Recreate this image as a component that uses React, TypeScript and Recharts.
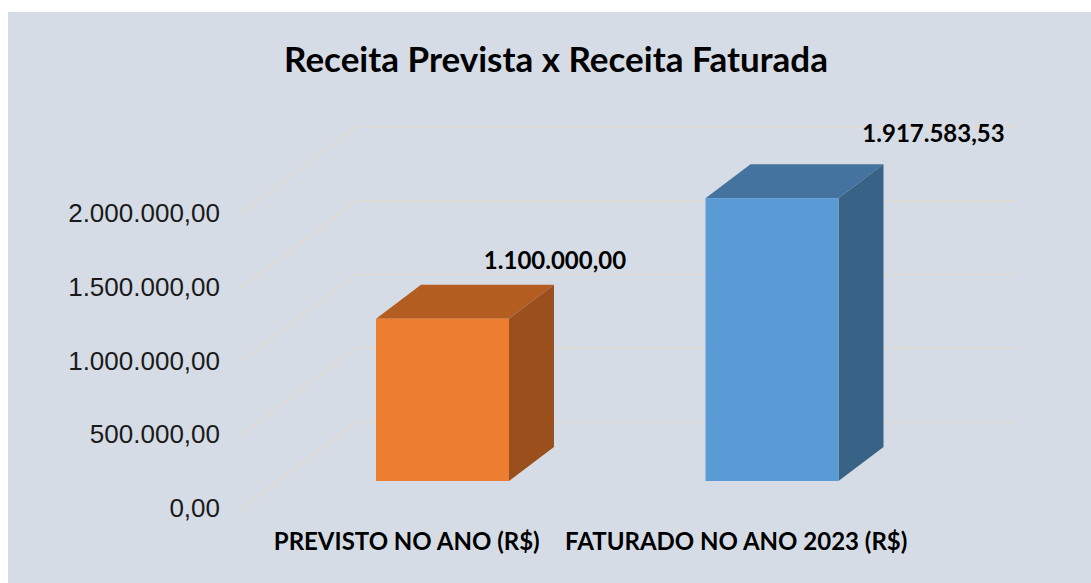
import React from 'react';
import { BarChart, Bar, XAxis, YAxis, CartesianGrid, LabelList } from 'recharts';

const categories = ['PREVISTO NO ANO (R$)', 'FATURADO NO ANO 2023 (R$)'];
const values = [1100000, 1917583.53];
const yTicks = [0, 500000, 1000000, 1500000, 2000000];

const FRONT = ['#ed7d31', '#5b9bd5'];
const TOP = ['#b45d21', '#44739f'];
const SIDE = ['#9a4f1c', '#386387'];

// 3D projection: back wall offset and bar depth placement
const WALL_DX = 114;
const WALL_DY = -86;
const BAR_DX = 36;
const BAR_DY = -27;
const DEPTH_DX = 45;
const DEPTH_DY = -34;
const LABEL_SHIFT = [
    [82, -86],
    [131, -93],
];

const data = categories.map((name, i) => ({ name, value: values[i] }));

const fmt = (v: number) => {
    const [int, dec] = v.toFixed(2).split('.');
    return int.replace(/\B(?=(\d{3})+(?!\d))/g, '.') + ',' + dec;
};

const Box3D = (props: any) => {
    const { x, y, width, height, index } = props;
    const fx = x + BAR_DX;
    const fy = y + BAR_DY;
    const w = width;
    const h = height;
    return (
        <g>
            <polygon
                points={`${fx},${fy} ${fx + DEPTH_DX},${fy + DEPTH_DY} ${fx + w + DEPTH_DX},${fy + DEPTH_DY} ${fx + w},${fy}`}
                fill={TOP[index]}
            />
            <polygon
                points={`${fx + w},${fy} ${fx + w + DEPTH_DX},${fy + DEPTH_DY} ${fx + w + DEPTH_DX},${fy + h + DEPTH_DY} ${fx + w},${fy + h}`}
                fill={SIDE[index]}
            />
            <rect x={fx} y={fy} width={w} height={h} fill={FRONT[index]} />
        </g>
    );
};

const GridLine = (props: any) => {
    const { x1, y1, x2 } = props;
    return (
        <path
            key={`g-${y1}`}
            d={`M${x1},${y1} L${x1 + WALL_DX},${y1 + WALL_DY} L${x2 + WALL_DX},${y1 + WALL_DY}`}
            stroke="#dfd9d2"
            strokeWidth={1.6}
            fill="none"
        />
    );
};

const CatTick = (props: any) => {
    const { x, y, payload } = props;
    return (
        <text
            x={x}
            y={y + 42}
            textAnchor="middle"
            fontFamily="Lato, sans-serif"
            fontWeight={700}
            fontSize={24}
            fill="#000"
        >
            {payload.value}
        </text>
    );
};

const ValueLabel = (props: any) => {
    const { x, y, width, value, index } = props;
    const [dx, dy] = LABEL_SHIFT[index];
    return (
        <text
            x={x + width + dx}
            y={y + dy}
            textAnchor="middle"
            dominantBaseline="central"
            fontFamily="Lato, sans-serif"
            fontWeight={700}
            fontSize={24}
            fill="#000"
        >
            {fmt(value)}
        </text>
    );
};

const App: React.FC = () => {
    return (
        <div
            style={{
                position: 'absolute',
                left: 8,
                top: 12,
                width: 1083,
                height: 571,
                background: '#d6dce5',
            }}
        >
            <div
                style={{
                    position: 'absolute',
                    top: 24,
                    left: 0,
                    width: 1096,
                    textAlign: 'center',
                    fontFamily: 'Lato, sans-serif',
                    fontWeight: 700,
                    fontSize: 35,
                    lineHeight: '44px',
                    color: '#000',
                }}
            >
                Receita Prevista x Receita Faturada
            </div>
            <BarChart
                width={1083}
                height={571}
                data={data}
                margin={{ top: 201, right: 190, bottom: 25, left: 14 }}
            >
                <CartesianGrid horizontal={GridLine} vertical={false} />
                <XAxis
                    dataKey="name"
                    axisLine={false}
                    tickLine={false}
                    tickSize={0}
                    tickMargin={0}
                    height={50}
                    tick={<CatTick />}
                    interval={0}
                />
                <YAxis
                    domain={[0, 2000000]}
                    ticks={yTicks}
                    axisLine={false}
                    tickLine={false}
                    tickSize={0}
                    tickMargin={22}
                    width={220}
                    tickFormatter={fmt}
                    tick={{ fontFamily: 'Liberation Sans, Arial, sans-serif', fontSize: 26, fill: '#1a1a1a' }}
                />
                <Bar dataKey="value" barSize={133} shape={<Box3D />} isAnimationActive={false}>
                    <LabelList dataKey="value" content={<ValueLabel />} />
                </Bar>
            </BarChart>
        </div>
    );
};

export default App;
